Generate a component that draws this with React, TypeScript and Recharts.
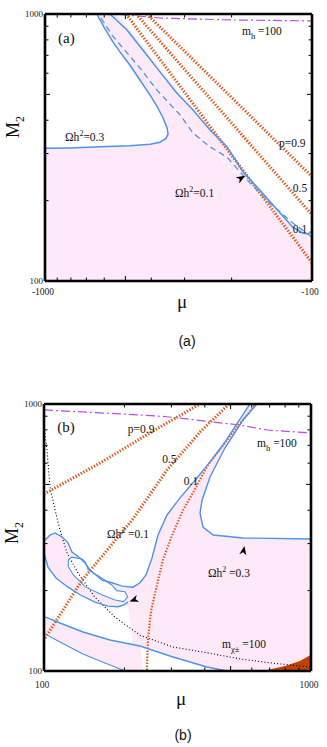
import React from 'react';
import { ComposedChart, Area, Line, Scatter, XAxis, YAxis } from 'recharts';

// ---------- shared ----------
const TICKS = [100, 200, 300, 400, 500, 600, 700, 800, 900, 1000];
const DOMAIN: [number, number] = [100, 1000];

const xLabelsA: Record<number, string> = { 1000: '-1000', 100: '-100' };
const yLabels: Record<number, string> = { 1000: '1000', 100: '100' };
const xLabelsB: Record<number, string> = { 100: '100', 1000: '1000' };

// ---------- panel (a): x = |mu| (mu from -1000 to -100) ----------
const pinkA = [
  { x: 1000, r: [100, 1000] }, { x: 540, r: [100, 1000] }, { x: 480, r: [100, 871] },
  { x: 420, r: [100, 733] }, { x: 362, r: [100, 607] }, { x: 315, r: [100, 506] },
  { x: 274, r: [100, 437] }, { x: 237, r: [100, 368] }, { x: 205, r: [100, 318] },
  { x: 178, r: [100, 256] }, { x: 155, r: [100, 219] }, { x: 133, r: [100, 185] },
  { x: 117, r: [100, 162] }, { x: 100, r: [100, 145] },
];
const holeA = [
  { x: 1000, r: [314, 1000] }, { x: 806, r: [315, 1000] }, { x: 640, r: [318, 1000] },
  { x: 596, r: [319, 879] }, { x: 556, r: [320, 785] }, { x: 524, r: [320, 721] },
  { x: 481, r: [321, 644] }, { x: 441, r: [323, 566] }, { x: 404, r: [325, 497] },
  { x: 381, r: [328, 452] }, { x: 361, r: [333, 408] }, { x: 352, r: [342, 385] },
  { x: 346, r: [355, 355] },
];
const omega03A = [
  { x: 1000, y: 314 }, { x: 806, y: 315 }, { x: 622, y: 318 }, { x: 481, y: 321 },
  { x: 404, y: 325 }, { x: 371, y: 331 }, { x: 352, y: 342 }, { x: 346, y: 355 },
  { x: 349, y: 374 }, { x: 361, y: 408 }, { x: 381, y: 452 }, { x: 404, y: 497 },
  { x: 441, y: 566 }, { x: 481, y: 644 }, { x: 524, y: 721 }, { x: 556, y: 785 },
  { x: 596, y: 879 }, { x: 640, y: 1000 },
];
const omega01A = [
  { x: 571, y: 1000 }, { x: 493, y: 871 }, { x: 430, y: 733 }, { x: 371, y: 607 },
  { x: 321, y: 506 }, { x: 279, y: 437 }, { x: 241, y: 368 }, { x: 208, y: 318 },
  { x: 181, y: 256 }, { x: 157, y: 219 }, { x: 135, y: 185 }, { x: 118, y: 159 },
  { x: 108, y: 151 }, { x: 103.5, y: 150 }, { x: 100, y: 154 },
];
const omega01dashA = [
  { x: 617, y: 966 }, { x: 561, y: 834 }, { x: 511, y: 746 }, { x: 441, y: 628 },
  { x: 381, y: 519 }, { x: 312, y: 419 }, { x: 279, y: 358 }, { x: 241, y: 318 },
  { x: 208, y: 291 }, { x: 175, y: 239 }, { x: 144, y: 196 }, { x: 118, y: 165 },
  { x: 100, y: 146 },
];
const whiteDashA = [
  { x: 404, y: 542 }, { x: 312, y: 426 }, { x: 263, y: 352 }, { x: 208, y: 272 },
  { x: 171, y: 223 }, { x: 144, y: 189 }, { x: 118, y: 161 }, { x: 100, y: 145 },
];
const mhA = [{ x: 523, y: 996 }, { x: 371, y: 966 }, { x: 203, y: 950 }, { x: 100, y: 942 }];
const p09A = [{ x: 416, y: 1000 }, { x: 100, y: 246 }];
const p05A = [{ x: 456, y: 1000 }, { x: 100, y: 177 }];
const p01A = [{ x: 497, y: 1000 }, { x: 100, y: 117 }];
const arrowsA = [{ x: 178, y: 248, a: -31 }];
const tagA = [{ x: 894, y: 779, text: '(a)' }];
const labelsA = [
  { x: 183, y: 834, text: 'm', sub: 'h', tail: ' =100' },
  { x: 841, y: 334, text: 'Ωh', sup: '2', tail: '=0.3' },
  { x: 326, y: 206, text: 'Ωh', sup: '2', tail: '=0.1' },
  { x: 133, y: 318, text: 'p=0.9' },
  { x: 118, y: 215, text: '0.5' },
  { x: 118, y: 151, text: '0.1' },
];

// ---------- panel (b): x = mu ----------
const pinkMainB = [
  { x: 100.9, r: [159, 309] }, { x: 105.3, r: [156, 323] }, { x: 109.9, r: [153, 329] },
  { x: 116.8, r: [150, 318] }, { x: 123, r: [147, 302] }, { x: 127.3, r: [145, 279] },
  { x: 136.4, r: [141, 265] }, { x: 142.4, r: [139, 254] }, { x: 148.7, r: [137.5, 239] },
  { x: 164.9, r: [133.5, 219] }, { x: 179.8, r: [130, 214] }, { x: 196, r: [128, 208] },
  { x: 215.4, r: [126, 206] }, { x: 228.8, r: [124, 214] }, { x: 241, r: [122, 229] },
  { x: 253.8, r: [120, 265] }, { x: 267.3, r: [117.5, 323] }, { x: 288.9, r: [115, 384] },
  { x: 323.2, r: [111, 445] }, { x: 374.1, r: [106.5, 528] }, { x: 418.5, r: [103, 607] },
  { x: 468.1, r: [100.7, 702] }, { x: 484.7, r: [100, 740] }, { x: 523.7, r: [100, 834] },
  { x: 590.7, r: [100, 1000] }, { x: 1000, r: [100, 1000] },
];
const whiteWB = [
  { x: 100, r: [159.4, 277] }, { x: 103.5, r: [156, 245] }, { x: 110.9, r: [153, 223] },
  { x: 123, r: [147, 206] }, { x: 136.4, r: [141, 193] }, { x: 155.2, r: [136, 181] },
  { x: 173.7, r: [131, 175] }, { x: 189.3, r: [129, 174] }, { x: 199.3, r: [127.5, 177] },
  { x: 206.3, r: [127, 176] }, { x: 211, r: [126.3, 150] }, { x: 215, r: [126, 126] },
];
const lowerBandB = [
  { x: 100.9, r: [137.6, 159.4] }, { x: 114.8, r: [128.4, 151.3] }, { x: 140, r: [115.8, 140] },
  { x: 169.2, r: [107.2, 132] }, { x: 201.1, r: [100, 127] }, { x: 228.8, r: [100, 124] },
  { x: 236, r: [100, 100] },
];
const islandFillB = [
  { x: 123.3, r: [246, 260.5] }, { x: 127, r: [235, 267] }, { x: 138.4, r: [213, 263] },
  { x: 142.4, r: [207, 257] }, { x: 146.5, r: [204, 239] }, { x: 164.5, r: [193, 223] },
  { x: 179.3, r: [187, 210] }, { x: 187.2, r: [184, 200] }, { x: 198.2, r: [182, 198.5] },
  { x: 205.9, r: [189, 189] },
];
const holeB = [
  { x: 384, r: [385, 397] }, { x: 391, r: [360, 437] }, { x: 400, r: [342, 467] },
  { x: 418.5, r: [330, 533] }, { x: 430, r: [323, 562] }, { x: 476, r: [319, 684] },
  { x: 556, r: [315, 871] }, { x: 628, r: [314, 1000] }, { x: 1000, r: [312, 1000] },
];
const brownB = [
  { x: 661, r: [100, 100] }, { x: 799, r: [100, 104.4] }, { x: 909, r: [100, 109] },
  { x: 1000, r: [100, 115] },
];
const omega01B = [
  { x: 100.9, y: 309 }, { x: 105.3, y: 323 }, { x: 109.9, y: 329 }, { x: 116.8, y: 318 },
  { x: 123, y: 302 }, { x: 127.3, y: 279 }, { x: 136.4, y: 265 }, { x: 142.4, y: 254 },
  { x: 148.7, y: 239 }, { x: 164.9, y: 219 }, { x: 179.8, y: 214 }, { x: 196, y: 208 },
  { x: 215.4, y: 206 }, { x: 228.8, y: 214 }, { x: 241, y: 229 }, { x: 253.8, y: 265 },
  { x: 267.3, y: 323 }, { x: 288.9, y: 384 }, { x: 323.2, y: 445 }, { x: 374.1, y: 528 },
  { x: 418.5, y: 607 }, { x: 468.1, y: 702 }, { x: 523.7, y: 834 }, { x: 590.7, y: 1000 },
];
const loopLowerB = [
  { x: 100, y: 277 }, { x: 103.5, y: 245 }, { x: 110.9, y: 223 }, { x: 123, y: 206 },
  { x: 136.4, y: 193 }, { x: 155.2, y: 181 }, { x: 173.7, y: 175 }, { x: 189.3, y: 174 },
  { x: 199.3, y: 177 }, { x: 206.3, y: 181 },
];
const islandB = [
  { x: 123.3, y: 260.5 }, { x: 127, y: 267 }, { x: 138.4, y: 263 }, { x: 142.4, y: 257 },
  { x: 146.5, y: 239 }, { x: 164.5, y: 223 }, { x: 179.3, y: 210 }, { x: 187.2, y: 200 },
  { x: 201.1, y: 198 }, { x: 205.9, y: 189 }, { x: 198.2, y: 182 }, { x: 184.5, y: 184.5 },
  { x: 164.5, y: 193 }, { x: 142.4, y: 207 }, { x: 128.8, y: 229 }, { x: 123.3, y: 246 },
  { x: 123.3, y: 260.5 },
];
const bandUpB = [
  { x: 100.9, y: 159.4 }, { x: 114.8, y: 151.3 }, { x: 140, y: 140 }, { x: 176.7, y: 130.6 },
  { x: 228.8, y: 124.1 }, { x: 304.2, y: 112.8 }, { x: 407.8, y: 103.5 }, { x: 484.7, y: 100 },
];
const bandLoB = [
  { x: 100.9, y: 137.6 }, { x: 114.8, y: 128.4 }, { x: 140, y: 115.8 }, { x: 169.2, y: 107.2 },
  { x: 201.1, y: 100 },
];
const omega03B = [
  { x: 628, y: 1000 }, { x: 556, y: 871 }, { x: 476, y: 684 }, { x: 418.5, y: 533 },
  { x: 391, y: 437 }, { x: 384, y: 391 }, { x: 394, y: 346 }, { x: 430, y: 323 },
  { x: 556, y: 315 }, { x: 1000, y: 312 },
];
const mhB = [
  { x: 100, y: 950 }, { x: 229, y: 910 }, { x: 289, y: 896 }, { x: 542, y: 834 },
  { x: 684, y: 799 }, { x: 1000, y: 779 },
];
const mchiB = [
  { x: 100.4, y: 799 }, { x: 102.6, y: 673 }, { x: 105.3, y: 489 }, { x: 110, y: 401 },
  { x: 114.8, y: 337 }, { x: 121.9, y: 277 }, { x: 134, y: 233 }, { x: 155, y: 189 },
  { x: 184.5, y: 159 }, { x: 229, y: 136 }, { x: 304, y: 123 }, { x: 408, y: 117 },
  { x: 542, y: 111 }, { x: 721, y: 107 }, { x: 909, y: 104.4 }, { x: 1000, y: 103.5 },
];
const p09B = [{ x: 100, y: 460 }, { x: 162, y: 601 }, { x: 249, y: 779 }, { x: 384, y: 1000 }];
const p05B = [
  { x: 101, y: 133 }, { x: 139, y: 219 }, { x: 214, y: 368 }, { x: 289, y: 566 },
  { x: 384, y: 785 }, { x: 493, y: 1000 },
];
const p01B = [
  { x: 243, y: 100.9 }, { x: 245, y: 131 }, { x: 252, y: 169 }, { x: 265, y: 210 },
  { x: 279, y: 261 }, { x: 302, y: 323 }, { x: 332, y: 401 }, { x: 361, y: 464 },
  { x: 411, y: 591 }, { x: 485, y: 733 }, { x: 556, y: 871 }, { x: 622, y: 1000 },
];
const arrowsB = [{ x: 209, y: 182, a: 160 }, { x: 563, y: 294, a: -80 }];
const tagB = [{ x: 112, y: 785, text: '(b)' }];
const labelsB = [
  { x: 206, y: 780, text: 'p=0.9' },
  { x: 277, y: 601, text: '0.5' },
  { x: 334, y: 497, text: '0.1' },
  { x: 172, y: 315, text: 'Ωh', sup: '2', tail: ' =0.1' },
  { x: 628, y: 690, text: 'm', sub: 'h', tail: ' =100' },
  { x: 411, y: 225, text: 'Ωh', sup: '2', tail: ' =0.3' },
  { x: 464, y: 122, text: 'm', sub: 'χ±', tail: ' =100' },
];

// ---------- styles ----------
const PINK = '#fde9f8';
const BLUE = '#4f93e6';
const ORANGE = '#e2591a';
const MAGENTA = '#c04ae8';
const BROWN = '#bf4200';
const SERIF = "'Liberation Serif', 'Times New Roman', serif";
const SANS = "'Liberation Sans', Arial, sans-serif";

function TextShape(props: any) {
  const { cx, cy, payload } = props;
  return (
    <text x={cx} y={cy} fontFamily={SERIF} fontSize={11.5} fill="#111">
      {payload.text}
      {payload.sup ? <tspan dy={-5} fontSize={8}>{payload.sup}</tspan> : null}
      {payload.sub ? <tspan dy={4} fontSize={8.5}>{payload.sub}</tspan> : null}
      {payload.tail ? <tspan dy={payload.sup ? 5 : payload.sub ? -4 : 0}>{payload.tail}</tspan> : null}
    </text>
  );
}
function TagShape(props: any) {
  const { cx, cy, payload } = props;
  return (
    <text x={cx} y={cy} fontFamily={SERIF} fontSize={15} fill="#111">{payload.text}</text>
  );
}
function ArrowShape(props: any) {
  const { cx, cy, payload } = props;
  return (
    <path
      d="M0,0 L-9,-3.6 L-6.5,0 L-9,3.6 Z"
      transform={`translate(${cx},${cy}) rotate(${payload.a})`}
      fill="#000"
    />
  );
}

function makeTick(side: string, labels: Record<number, string> | null, lblOff: number) {
  return (props: any) => {
    const { x, y, payload } = props;
    const v = payload.value;
    const len = v === 500 ? 5 : 3.5;
    const lab = labels ? labels[v] : undefined;
    let ln: any = null;
    let tx: any = null;
    if (side === 'left') {
      ln = <line x1={x} x2={x + len} y1={y} y2={y} stroke="#000" strokeWidth={1} />;
      if (lab) tx = <text x={x - 2} y={y + 3} textAnchor="end" fontFamily={SERIF} fontSize={9} fill="#222">{lab}</text>;
    } else if (side === 'right') {
      ln = <line x1={x} x2={x - len} y1={y} y2={y} stroke="#000" strokeWidth={1} />;
    } else if (side === 'bottom') {
      ln = <line x1={x} x2={x} y1={y} y2={y - len} stroke="#000" strokeWidth={1} />;
      if (lab) tx = <text x={x - 2} y={y + lblOff} textAnchor="middle" fontFamily={SERIF} fontSize={9.5} fill="#222">{lab}</text>;
    } else {
      ln = <line x1={x} x2={x} y1={y} y2={y + len} stroke="#000" strokeWidth={1} />;
    }
    return <g>{ln}{tx}</g>;
  };
}

const frame = { stroke: '#000', strokeWidth: 2.6 };

function renderAxes(reversed: boolean, xLabels: Record<number, string>, lblOff: number) {
  return [
    <XAxis key="xb" xAxisId={0} dataKey="x" type="number" scale="log" domain={DOMAIN} allowDataOverflow
      reversed={reversed} ticks={TICKS} interval={0} height={1} tickSize={0} tickMargin={0}
      axisLine={frame} tickLine={false} tick={makeTick('bottom', xLabels, lblOff)} />,
    <XAxis key="xt" xAxisId="top" orientation="top" dataKey="x" type="number" scale="log" domain={DOMAIN} allowDataOverflow
      reversed={reversed} ticks={TICKS} interval={0} height={1} tickSize={0} tickMargin={0}
      axisLine={frame} tickLine={false} tick={makeTick('top', null, 0)} />,
    <YAxis key="yl" yAxisId={0} type="number" scale="log" domain={DOMAIN} allowDataOverflow
      ticks={TICKS} interval={0} width={1} tickSize={0} tickMargin={0}
      axisLine={frame} tickLine={false} tick={makeTick('left', yLabels, 0)} />,
    <YAxis key="yr" yAxisId="right" orientation="right" type="number" scale="log" domain={DOMAIN} allowDataOverflow
      ticks={TICKS} interval={0} width={1} tickSize={0} tickMargin={0}
      axisLine={frame} tickLine={false} tick={makeTick('right', null, 0)} />,
  ];
}

const rangeArea = (data: any[], fill: string, key: string) => (
  <Area key={key} data={data} dataKey="r" type="linear" fill={fill} fillOpacity={1} stroke="none" isAnimationActive={false} />
);
const curve = (data: any[], stroke: string, width: number, dash: string | undefined, key: string) => (
  <Line key={key} data={data} dataKey="y" type="linear" stroke={stroke} strokeWidth={width}
    strokeDasharray={dash} dot={false} activeDot={false} isAnimationActive={false} />
);

function PanelA() {
  return (
    <ComposedChart width={327} height={330} margin={{ top: 13, right: 14, bottom: 48, left: 44 }}>
      {renderAxes(true, xLabelsA, 14)}
      {rangeArea(pinkA, PINK, 'pa')}
      {rangeArea(holeA, '#ffffff', 'ha')}
      {curve(whiteDashA, '#ffffff', 1.2, '4 3', 'wd')}
      {curve(mhA, MAGENTA, 1.2, '9 3 2 3', 'mh')}
      {curve(p09A, ORANGE, 3, '1.4 1.6', 'p9')}
      {curve(p05A, ORANGE, 3, '1.4 1.6', 'p5')}
      {curve(p01A, ORANGE, 3, '1.4 1.6', 'p1')}
      {curve(omega03A, BLUE, 1.5, undefined, 'o3')}
      {curve(omega01dashA, BLUE, 1.3, '6 4', 'o1d')}
      {curve(omega01A, BLUE, 1.5, undefined, 'o1')}
      <Scatter data={arrowsA} dataKey="y" shape={ArrowShape} isAnimationActive={false} />
      <Scatter data={labelsA} dataKey="y" shape={TextShape} isAnimationActive={false} />
      <Scatter data={tagA} dataKey="y" shape={TagShape} isAnimationActive={false} />
    </ComposedChart>
  );
}

function PanelB() {
  return (
    <ComposedChart width={327} height={330} margin={{ top: 13, right: 15, bottom: 48, left: 43 }}>
      {renderAxes(false, xLabelsB, 17)}
      {rangeArea(pinkMainB, PINK, 'pm')}
      {rangeArea(lowerBandB, PINK, 'lb')}
      {rangeArea(whiteWB, '#ffffff', 'ww')}
      {rangeArea(islandFillB, '#ffffff', 'if')}
      {rangeArea(holeB, '#ffffff', 'hb')}
      {rangeArea(brownB, BROWN, 'br')}
      {curve(mhB, MAGENTA, 1.2, '9 3 2 3', 'mh')}
      {curve(mchiB, '#000', 1.1, '1 2.2', 'mc')}
      {curve(p09B, ORANGE, 3, '1.4 1.6', 'p9')}
      {curve(p05B, ORANGE, 3, '1.4 1.6', 'p5')}
      {curve(p01B, ORANGE, 2.2, '1.4 1.6', 'p1')}
      {curve(omega01B, BLUE, 1.4, undefined, 'o1')}
      {curve(loopLowerB, BLUE, 1.4, undefined, 'll')}
      {curve(islandB, BLUE, 1.1, undefined, 'is')}
      {curve(bandUpB, BLUE, 1.4, undefined, 'bu')}
      {curve(bandLoB, BLUE, 1.2, undefined, 'bl')}
      {curve(omega03B, BLUE, 1.4, undefined, 'o3')}
      <Scatter data={arrowsB} dataKey="y" shape={ArrowShape} isAnimationActive={false} />
      <Scatter data={labelsB} dataKey="y" shape={TextShape} isAnimationActive={false} />
      <Scatter data={tagB} dataKey="y" shape={TagShape} isAnimationActive={false} />
    </ComposedChart>
  );
}

const abs = (l: number, t: number, extra: any = {}) => ({ position: 'absolute' as const, left: l, top: t, ...extra });

function M2({ cx, cy }: { cx: number; cy: number }) {
  return (
    <div style={abs(cx - 20, cy - 10, { width: 40, height: 20, transform: 'rotate(-90deg)', fontFamily: SERIF, fontSize: 18, lineHeight: '20px', textAlign: 'center', color: '#111' })}>
      M<span style={{ fontSize: 12, position: 'relative', top: 5 }}>2</span>
    </div>
  );
}
function Mu({ cx, cy }: { cx: number; cy: number }) {
  return (
    <div style={abs(cx - 15, cy - 11, { width: 30, height: 22, fontFamily: SERIF, fontSize: 19, lineHeight: '22px', textAlign: 'center', color: '#111' })}>μ</div>
  );
}
function Cap({ cx, cy, t }: { cx: number; cy: number; t: string }) {
  return (
    <div style={abs(cx - 20, cy - 9, { width: 40, height: 18, fontFamily: SANS, fontSize: 14, lineHeight: '18px', textAlign: 'center', color: '#111' })}>{t}</div>
  );
}

export default function App() {
  return (
    <div style={{ position: 'absolute', left: 0, top: 0, width: 327, height: 747, background: '#fff', overflow: 'hidden' }}>
      <div style={abs(0, 0)}><PanelA /></div>
      <div style={abs(0, 390)}><PanelB /></div>
      <M2 cx={13} cy={127} />
      <Mu cx={182} cy={302} />
      <Cap cx={187} cy={341} t="(a)" />
      <M2 cx={12} cy={533} />
      <Mu cx={181} cy={699} />
      <Cap cx={183} cy={735} t="(b)" />
    </div>
  );
}
